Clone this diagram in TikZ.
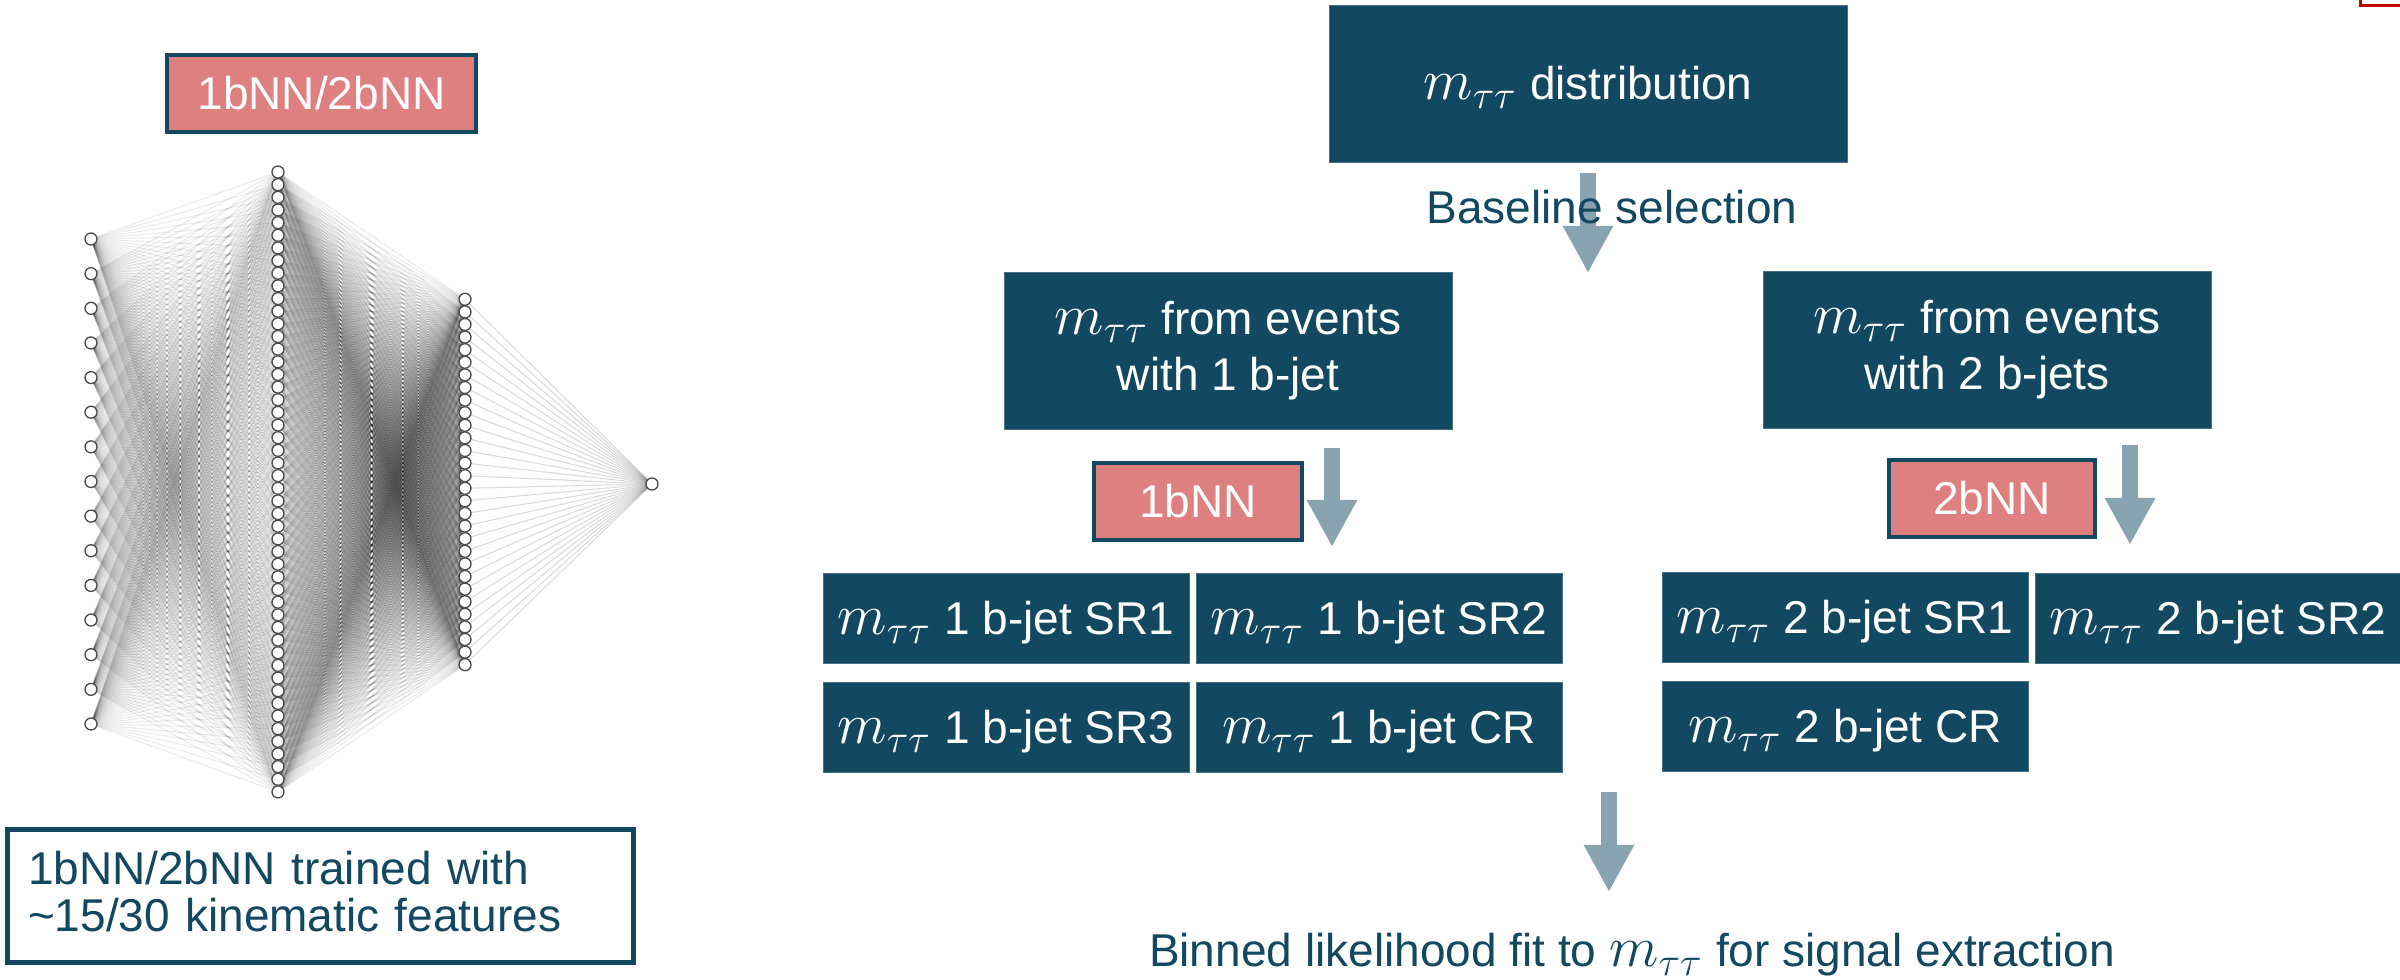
\documentclass[tikz,border=0pt]{standalone}
\usepackage{fontspec}
\setmainfont{Liberation Sans}
\usetikzlibrary{arrows.meta}
\definecolor{deepteal}{RGB}{19,72,97}
\definecolor{salmon}{RGB}{223,128,128}
\definecolor{flowgray}{RGB}{135,164,176}
\definecolor{edgeline}{RGB}{70,112,134}
\definecolor{cornerred}{RGB}{192,0,0}
% invariant mass symbol, set a little larger than the running text
\newcommand{\mtautau}{{\fontsize{17}{16.8}\selectfont$m_{\tau\tau}$}}

\begin{document}
\begin{tikzpicture}[x=0.3pt, y=-0.3pt,
  every node/.style={font=\fontsize{13.8}{16.8}\selectfont},
  tealbox/.style={rectangle, fill=deepteal, draw=edgeline, line width=0.25pt,
    text=white, inner sep=0pt, align=center},
  onerow/.style={text height=9.9pt, text depth=0pt},
  srbox/.style={tealbox, onerow, minimum width=109.8pt, minimum height=27pt},
  nnbox/.style={rectangle, fill=salmon, draw=deepteal, line width=1.3pt,
    text=white, inner sep=0pt},
  flow/.style={draw=flowgray, line width=4.8pt,
    -{Triangle[width=14.1pt,length=14.1pt]}},
  neuron/.style={circle, draw=black!70, fill=white, line width=0.4pt,
    minimum size=3.6pt, inner sep=0pt},
  synapse/.style={draw=black, line width=0.33pt, opacity=0.08},
  darktext/.style={text=deepteal, inner sep=0pt}
]
\useasboundingbox (0,0) rectangle (2400,980);
\clip (0,0) rectangle (2400,980);
\fill[white] (0,0) rectangle (2400,980);

% ---------------- network: layer positions ----------------
\foreach \i in {1,...,15}{\coordinate (in\i) at (91, {481.5+(\i-8)*34.64});}
\foreach \i in {1,...,50}{\coordinate (ha\i) at (278, {482+(\i-25.5)*12.65});}
\foreach \i in {1,...,30}{\coordinate (hb\i) at (465, {482+(\i-15.5)*12.6});}
\coordinate (out) at (652, 484);

% connections
\foreach \i in {1,...,15}{\foreach \j in {1,...,50}{\draw[synapse] (in\i) -- (ha\j);}}
\foreach \i in {1,...,50}{\foreach \j in {1,...,30}{\draw[synapse] (ha\i) -- (hb\j);}}
\foreach \i in {1,...,30}{\draw[synapse, opacity=0.14] (hb\i) -- (out);}

% neurons
\foreach \i in {1,...,15}{\node[neuron] (nin\i) at (in\i) {};}
\foreach \i in {1,...,50}{\node[neuron] (nha\i) at (ha\i) {};}
\foreach \i in {1,...,30}{\node[neuron] (nhb\i) at (hb\i) {};}
\node[neuron] (nout) at (out) {};

% ---------------- left labels ----------------
\node[nnbox, minimum width=92.7pt, minimum height=23.1pt] (nnlabel) at (321.5, 93.5) {1bNN/2bNN};
\node[rectangle, draw=deepteal, line width=1.5pt, text=deepteal,
  font=\fontsize{13.8}{14.1}\selectfont,
  minimum width=187.8pt, minimum height=39.9pt, inner ysep=0pt, inner xsep=6.15pt,
  text width=175.5pt, align=left] (trainbox) at (320.5, 896)
  {1bNN/2bNN trained with\\\textasciitilde15/30 kinematic features\vphantom{g}};

% ---------------- selection flow ----------------
\node[tealbox, onerow, minimum width=155.4pt, minimum height=47.1pt] (dist) at (1588, 83.5)
  {\mtautau{} distribution};
\node[tealbox, minimum width=134.4pt, minimum height=47.1pt] (one) at (1228, 350.5)
  {\mtautau{} from events\\with 1 b-jet};
\node[tealbox, minimum width=134.4pt, minimum height=47.1pt] (two) at (1987, 349.5)
  {\mtautau{} from events\\with 2 b-jets};

\node[nnbox, minimum width=62.4pt, minimum height=23.1pt] (nnone) at (1198, 501.5) {1bNN};
\node[nnbox, minimum width=61.8pt, minimum height=23.1pt] (nntwo) at (1992, 498.5) {2bNN};

\node[srbox] (oneA) at (1006, 618)   {\mtautau{} 1 b-jet SR1};
\node[srbox] (oneB) at (1379, 618)   {\mtautau{} 1 b-jet SR2};
\node[srbox] (oneC) at (1006, 727.5) {\mtautau{} 1 b-jet SR3};
\node[srbox] (oneD) at (1379, 727.5) {\mtautau{} 1 b-jet CR};
\node[srbox] (twoA) at (1845, 617.5) {\mtautau{} 2 b-jet SR1};
\node[srbox] (twoB) at (2218, 618)   {\mtautau{} 2 b-jet SR2};
\node[srbox] (twoC) at (1845, 726.5) {\mtautau{} 2 b-jet CR};

% block arrows
\coordinate (selTop) at (1588, 173);  \coordinate (selTip) at (1588, 273);
\coordinate (oneTop) at (1332, 448);  \coordinate (oneTip) at (1332, 547);
\coordinate (twoTop) at (2130, 445);  \coordinate (twoTip) at (2130, 545);
\coordinate (fitTop) at (1609, 792);  \coordinate (fitTip) at (1609, 892);
\draw[flow] (selTop) -- (selTip);
\draw[flow] (oneTop) -- (oneTip);
\draw[flow] (twoTop) -- (twoTip);
\draw[flow] (fitTop) -- (fitTip);

\node[darktext, anchor=base] (baseline) at (1612, 224) {Baseline selection};
\node[darktext, anchor=base] (fit) at (1632, 967)
  {Binned likelihood fit to \mtautau{} for signal extraction};

% frame corner at the upper right
\draw[cornerred, line width=0.9pt] (2360,-20) -- (2360,5.5) -- (2420,5.5);
\end{tikzpicture}
\end{document}
